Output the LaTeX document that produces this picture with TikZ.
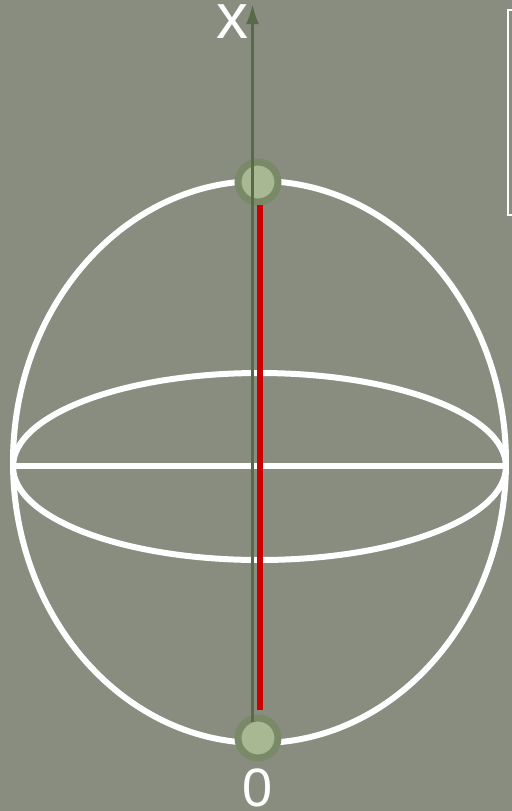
\documentclass[tikz,border=0pt]{standalone}
\usepackage{fontspec}
\setmainfont{Liberation Sans}
\usetikzlibrary{arrows.meta}
\definecolor{bgcol}{RGB}{136,141,128}
\definecolor{axiscol}{RGB}{88,106,72}
\definecolor{dotring}{RGB}{122,138,104}
\definecolor{dotfill}{RGB}{168,184,146}
\definecolor{redline}{RGB}{204,0,0}
\tikzset{
  shell/.style={draw=white, line width=3pt},
  pole/.style={circle, fill=dotfill, draw=dotring, line width=3.5pt, minimum size=20pt, inner sep=0pt},
  lbl/.style={text=white, inner sep=0pt}
}
\begin{document}
\begin{tikzpicture}[x=0.5pt, y=-0.5pt]
		% Background
		\fill[bgcol] (0,0) rectangle (512,811);
		\useasboundingbox (0,0) rectangle (512,811);
		\clip (0,0) rectangle (512,811);
		
		% Box at the edge
		\draw[white, line width=1pt] (508,10) rectangle (540,215);
		
		% Sphere outline
		\draw[shell] (259.5,462) ellipse [x radius=246.5, y radius=281];
		\draw[shell] (259.5,466.5) ellipse [x radius=246.5, y radius=93.5];
		\draw[shell] (13,466) -- (506,466);
		
		% Poles
		\node[pole] (top) at (258,182) {};
		\node[pole] (bot) at (258,738) {};
		\draw[redline, line width=3pt] (260,205) -- (260,710);
		
		% Axis
		\coordinate (axisbot) at (252.5,722);
		\coordinate (axistop) at (252.5,4);
		\draw[axiscol, line width=1.5pt, -{Latex[length=10pt, width=6.5pt]}] (axisbot) -- (axistop);
		
		% Labels
		\node[lbl, font=\fontsize{32}{32}\selectfont] (xlbl) at (232,22) {x};
		\node[lbl, font=\fontsize{27}{27}\selectfont] (zero) at (258,788) {0};
	\end{tikzpicture}
\end{document}
